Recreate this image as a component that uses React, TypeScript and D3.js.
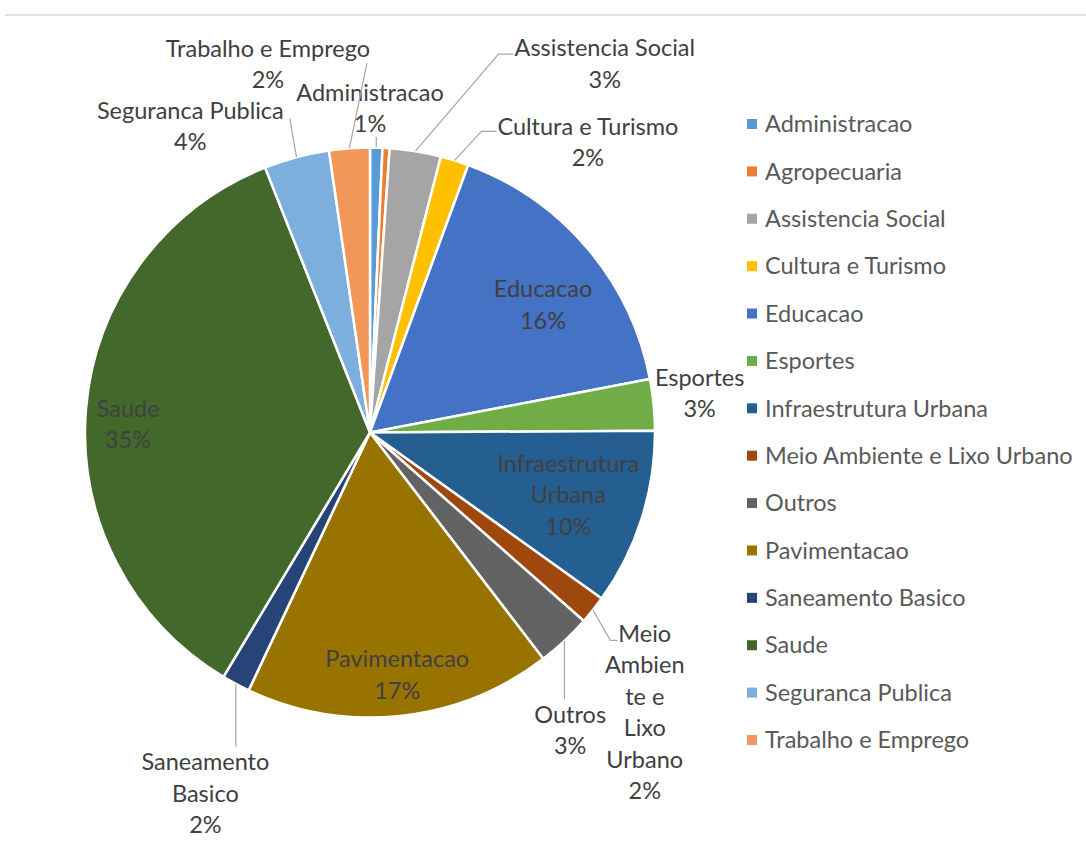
import React, { useEffect, useRef } from 'react';
import * as d3 from 'd3';

// ---------- data ----------
const categories = [
  'Administracao', 'Agropecuaria', 'Assistencia Social', 'Cultura e Turismo',
  'Educacao', 'Esportes', 'Infraestrutura Urbana', 'Meio Ambiente e Lixo Urbano',
  'Outros', 'Pavimentacao', 'Saneamento Basico', 'Saude',
  'Seguranca Publica', 'Trabalho e Emprego',
];
const values = [0.7, 0.4, 2.9, 1.6, 16.4, 2.9, 10.0, 1.6, 3.1, 17.4, 1.6, 35.4, 3.7, 2.3];
const colors = [
  '#5B9BD5', '#ED7D31', '#A5A5A5', '#FFC000', '#4472C4', '#70AD47', '#255E91',
  '#9E480E', '#636363', '#997300', '#264478', '#43682B', '#7CAFDD', '#F1975A',
];
// wrapped label text lines (Excel wrapping)
const labelLines: string[][] = [
  ['Administracao'], [], ['Assistencia Social'], ['Cultura e Turismo'], ['Educacao'],
  ['Esportes'], ['Infraestrutura', 'Urbana'], ['Meio', 'Ambien', 'te e', 'Lixo', 'Urbano'],
  ['Outros'], ['Pavimentacao'], ['Saneamento', 'Basico'], ['Saude'],
  ['Seguranca Publica'], ['Trabalho e Emprego'],
];

// ---------- layout (label placement, polar around pie centre) ----------
type Leader = { kind: 'none' | 'vertical' | 'straight' | 'elbow'; dx?: number; dy?: number; elbow?: number };
const labelLayout: { angle: number; dist: number; leader: Leader }[] = [
  { angle: 0, dist: 324, leader: { kind: 'vertical' } },
  { angle: 0, dist: 0, leader: { kind: 'none' } },
  { angle: 32.5, dist: 437, leader: { kind: 'elbow', dy: 6, elbow: 15 } },
  { angle: 36.9, dist: 363, leader: { kind: 'elbow', dy: 5, elbow: 15 } },
  { angle: 53.6, dist: 215, leader: { kind: 'none' } },
  { angle: 83.2, dist: 332, leader: { kind: 'none' } },
  { angle: 107.5, dist: 208, leader: { kind: 'none' } },
  { angle: 135.5, dist: 392, leader: { kind: 'elbow', dy: 7, elbow: 7 } },
  { angle: 146.1, dist: 359, leader: { kind: 'vertical' } },
  { angle: 173.6, dist: 244, leader: { kind: 'none' } },
  { angle: 204.5, dist: 397, leader: { kind: 'vertical' } },
  { angle: 272, dist: 242, leader: { kind: 'none' } },
  { angle: 329.6, dist: 355, leader: { kind: 'straight', dx: 6, dy: 8 } },
  { angle: 344.5, dist: 382, leader: { kind: 'straight', dx: -3, dy: 14 } },
];

const W = 1086;
const H = 846;
const CX = 370;
const CY = 432.5;
const R = 285;
const FONT = 'Lato, "Open Sans", sans-serif';
const FS = 23.5;
const LH = 31.5;

export default function App() {
  const ref = useRef<SVGSVGElement | null>(null);

  useEffect(() => {
    const svg = d3.select(ref.current);
    svg.selectAll('*').remove();

    // top rule
    svg.append('line')
      .attr('x1', 5).attr('x2', W).attr('y1', 15).attr('y2', 15)
      .attr('stroke', '#D9D9D9').attr('stroke-width', 1.5);

    const data = categories.map((c, i) => ({ name: c, value: values[i], i }));
    const total = d3.sum(values);
    const pct = d3.format('.0%');
    const pie = d3.pie<any>().sort(null).value((d: any) => d.value).startAngle(0).endAngle(2 * Math.PI);
    const arcs = pie(data);
    const arc = d3.arc<any>().innerRadius(0).outerRadius(R);

    const g = svg.append('g').attr('transform', `translate(${CX},${CY})`);
    g.selectAll('path').data(arcs).join('path')
      .attr('d', arc as any)
      .attr('fill', (d: any) => colors[d.data.i])
      .attr('stroke', '#FFFFFF')
      .attr('stroke-width', 2.5)
      .attr('stroke-linejoin', 'round');

    const polar = (deg: number, r: number): [number, number] => {
      const a = (deg * Math.PI) / 180;
      return [CX + r * Math.sin(a), CY - r * Math.cos(a)];
    };

    const labels = svg.append('g');
    const leaders = svg.append('g');

    arcs.forEach((a: any) => {
      const i = a.data.i;
      const lines = labelLines[i];
      if (!lines.length) return;
      const lay = labelLayout[i];
      const allLines = [...lines, pct(a.data.value / total)];
      const [bx, by] = polar(lay.angle, lay.dist);
      const n = allLines.length;
      const top = by - (n * LH) / 2;
      const bottom = by + (n * LH) / 2;
      const t = labels.append('text')
        .attr('font-family', FONT).attr('font-size', FS)
        .attr('fill', '#404040').attr('text-anchor', 'middle');
      const spans = allLines.map((s, k) =>
        t.append('tspan').attr('x', bx).attr('y', top + LH * (k + 0.5) + FS * 0.35).text(s)
      );

      const mid = ((a.startAngle + a.endAngle) / 2) * 180 / Math.PI;
      const [sx, sy] = polar(mid, R);
      const ld = lay.leader;
      if (ld.kind === 'none') return;
      const firstNode = spans[0].node() as SVGTSpanElement;
      const w1 = firstNode.getComputedTextLength();
      const l1y = top + LH * 0.5;
      const lineStyle = (sel: any) => sel.attr('fill', 'none').attr('stroke', '#A6A6A6').attr('stroke-width', 1.2);
      if (ld.kind === 'vertical') {
        const endY = sy > by ? bottom - 3 : top;
        leaders.append('line').attr('x1', sx).attr('y1', sy).attr('x2', sx).attr('y2', endY).call(lineStyle);
      } else if (ld.kind === 'straight') {
        const ex = bx + w1 / 2 + (ld.dx || 0);
        const ey = l1y + (ld.dy || 0);
        leaders.append('line').attr('x1', sx).attr('y1', sy).attr('x2', ex).attr('y2', ey).call(lineStyle);
      } else if (ld.kind === 'elbow') {
        const ex = bx - w1 / 2 - 1;
        const ey = l1y + (ld.dy || 0);
        const path = d3.path();
        path.moveTo(sx, sy);
        path.lineTo(ex - (ld.elbow || 10), ey);
        path.lineTo(ex, ey);
        leaders.append('path').attr('d', path.toString()).call(lineStyle);
      }
    });

    // legend
    const lg = svg.append('g');
    const ly = d3.scalePoint<string>().domain(categories).range([124, 740]);
    categories.forEach((c, i) => {
      const y = ly(c)!;
      lg.append('rect').attr('x', 747).attr('y', y - 5).attr('width', 10).attr('height', 10).attr('fill', colors[i]);
      lg.append('text').attr('x', 765).attr('y', y + FS * 0.35)
        .attr('font-family', FONT).attr('font-size', FS).attr('fill', '#595959').text(c);
    });
  }, []);

  return (
    <svg ref={ref} width={W} height={H} style={{ position: 'absolute', left: 0, top: 0, background: '#fff' }} />
  );
}
